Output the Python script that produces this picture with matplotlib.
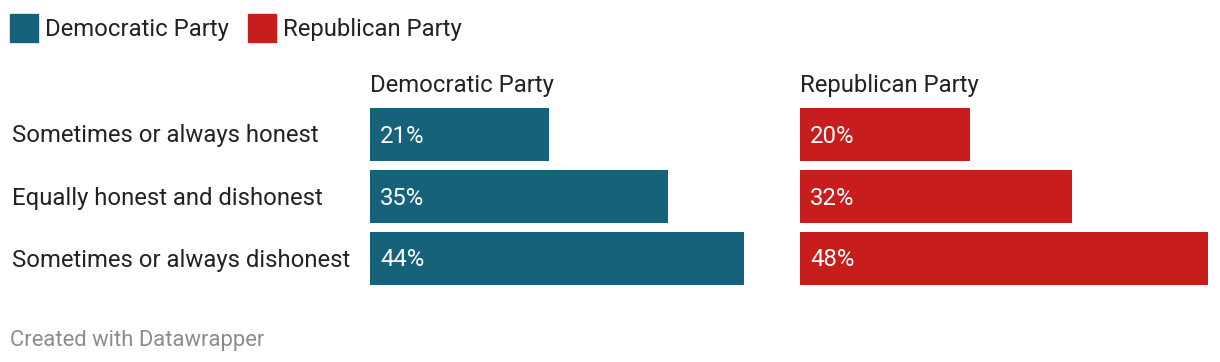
import matplotlib
matplotlib.use("Agg")
import matplotlib.pyplot as plt
from matplotlib.patches import Rectangle

plt.rcParams['font.family'] = ['Roboto', 'DejaVu Sans']

categories = ["Sometimes or always honest", "Equally honest and dishonest", "Sometimes or always dishonest"]
democratic = [21, 35, 44]
republican = [20, 32, 48]
series_names = ["Democratic Party", "Republican Party"]
colors = ["#17627b", "#c71e1d"]

W, H = 1220, 362
fig = plt.figure(figsize=(W / 100, H / 100), dpi=100)

def fx(px):
    return px / W

def fy(py):
    return 1 - py / H

ax_top, ax_bot = 108, 285
panels = [(370, 778), (800, 1208)]
FS = 17.2
xmax = 48
dy = 1.5  # text baseline nudge in px

axes = []
for (x0, x1), vals, name, col in zip(panels, [democratic, republican], series_names, colors):
    ax = fig.add_axes([fx(x0), fy(ax_bot), fx(x1 - x0), (ax_bot - ax_top) / H])
    ypos = list(range(len(categories)))
    h = 53 / 62
    ax.barh(ypos, vals, height=h, color=col)
    ax.set_xlim(0, xmax)
    ax.set_ylim(len(categories) - 1 + h / 2, -h / 2)
    for s in ax.spines.values():
        s.set_visible(False)
    ax.set_xticks([])
    ax.set_yticks([])
    for y, v in zip(ypos, vals):
        ax.annotate(f"{v}%", xy=(0, y), xytext=(10 * 0.72, -dy * 0.72), textcoords='offset points',
                    ha='left', va='center', color='white', fontsize=FS)
    ax.text(0, 1 + (24 - dy) / (ax_bot - ax_top), name, transform=ax.transAxes,
            ha='left', va='center', fontsize=FS, color='#222222')
    axes.append(ax)

# row labels
for i, c in enumerate(categories):
    fig.text(fx(12), fy(134.5 + dy + 62 * i), c, ha='left', va='center', fontsize=FS, color='#222222')

# legend
leg = [(10, 45), (248, 283)]
for (sx, tx), name, col in zip(leg, series_names, colors):
    fig.patches.append(Rectangle((fx(sx), fy(42)), fx(28), 28 / H, transform=fig.transFigure,
                                 color=col))
    fig.text(fx(tx), fy(28 + dy), name, ha='left', va='center', fontsize=FS, color='#222222')

fig.text(fx(10), fy(339 + dy), "Created with Datawrapper", ha='left', va='center',
         fontsize=FS * 0.92, color='#8c8c8c')

fig.savefig("out.png", dpi=100)
